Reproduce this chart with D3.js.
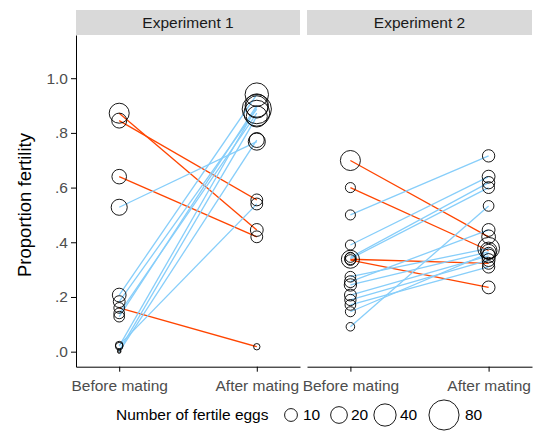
<!DOCTYPE html>
<html>
<head>
<meta charset="utf-8">
<script src="https://cdn.jsdelivr.net/npm/d3@7"></script>
<style type="text/css">
  body{
    background: white;
    margin: 0px;
  }
  svg text{
    font-family: 'Liberation Sans', Arial, Helvetica, sans-serif;
  }
</style>
</head>
<body>

<svg id="chart" width="544" height="431"></svg>

<script>

// stages on the x axis
var stages = ["Before mating", "After mating"];
var panels = ["Experiment 1", "Experiment 2"];

// experiment 1 : proportion fertility and number of fertile eggs, one entry per female
var exp1Before     = [0.872, 0.845, 0.640, 0.160, 0.528, 0.024, 0.207, 0.183, 0.140, 0.128, 0.020, 0.004, 0.000];
var exp1BeforeEggs = [31, 15, 14, 6, 18, 2, 12, 8, 6, 6, 2, 0, 0];
var exp1After      = [0.445, 0.555, 0.420, 0.018, 0.768, 0.540, 0.940, 0.887, 0.872, 0.900, 0.895, 0.860, 0.774];
var exp1AfterEggs  = [10, 8, 8, 1, 21, 8, 45, 75, 57, 45, 40, 35, 15];

// experiment 2
var exp2Before     = [0.699, 0.600, 0.338, 0.335, 0.500, 0.390, 0.345, 0.340, 0.091, 0.256, 0.274, 0.244, 0.207, 0.189, 0.171, 0.146];
var exp2BeforeEggs = [31, 5, 24, 6, 5, 5, 5, 8, 3, 8, 6, 9, 8, 7, 6, 5];
var exp2After      = [0.420, 0.370, 0.323, 0.235, 0.716, 0.640, 0.618, 0.600, 0.533, 0.445, 0.378, 0.365, 0.350, 0.335, 0.310, 0.360];
var exp2AfterEggs  = [12, 20, 8, 10, 9, 10, 9, 8, 6, 10, 38, 15, 12, 10, 9, 8];

var yTicks = [0, 0.2, 0.4, 0.6, 0.8, 1.0];
var legendEggs = [10, 20, 40, 80];

var svg = d3.select("#chart");

var plotTop = 35, plotBottom = 366.7;
var panelX = [[76, 300], [307, 532]];

var y = d3.scaleLinear().domain([-0.055, 1.158]).range([plotBottom, plotTop]);
var size = d3.scaleSqrt().domain([0, 88]).range([1.7, 15.7]);

var upColor = "#87cefa";
var downColor = "#ff4500";

function pairs(b, bn, a, an) {
  return b.map(function(d, i) {
    return { before: d, beforeEggs: bn[i], after: a[i], afterEggs: an[i] };
  });
}

var data = [
  pairs(exp1Before, exp1BeforeEggs, exp1After, exp1AfterEggs),
  pairs(exp2Before, exp2BeforeEggs, exp2After, exp2AfterEggs)
];

panels.forEach(function(name, p) {

  var x = d3.scalePoint().domain(stages).range(panelX[p]).padding(0.314);
  var g = svg.append("g");

  // strip
  g.append("rect")
    .attr("x", panelX[p][0])
    .attr("y", 10)
    .attr("width", panelX[p][1] - panelX[p][0])
    .attr("height", plotTop - 10)
    .attr("fill", "#d9d9d9");

  g.append("text")
    .attr("x", (panelX[p][0] + panelX[p][1]) / 2)
    .attr("y", 22.5)
    .attr("dy", "0.35em")
    .attr("text-anchor", "middle")
    .attr("fill", "#1a1a1a")
    .style("font-size", "15.5px")
    .text(name);

  // x axis
  var xAxis = g.append("g")
    .attr("transform", "translate(0," + plotBottom + ")")
    .call(d3.axisBottom(x).tickSize(5).tickSizeOuter(0).tickPadding(8));
  xAxis.selectAll("text").attr("fill", "#4d4d4d").style("font-size", "15.5px");
  xAxis.select(".domain").attr("stroke", "#000");

  if (p == 0) {
    var yAxis = g.append("g")
      .attr("transform", "translate(" + panelX[p][0] + ",0)")
      .call(d3.axisLeft(y).tickValues(yTicks).tickSize(5).tickSizeOuter(0).tickPadding(3)
        .tickFormat(function(d) { return d == 1 ? "1.0" : d3.format(".1f")(d).replace(/^0/, ""); }));
    yAxis.selectAll("text").attr("fill", "#4d4d4d").style("font-size", "15.5px");
    yAxis.select(".domain").attr("stroke", "#000");
  }

  // lines between before and after
  g.selectAll(".pair")
    .data(data[p])
    .enter()
    .append("line")
    .attr("x1", x(stages[0]))
    .attr("x2", x(stages[1]))
    .attr("y1", function(d) { return y(d.before); })
    .attr("y2", function(d) { return y(d.after); })
    .attr("stroke", function(d) { return d.after < d.before ? downColor : upColor; })
    .attr("stroke-width", 1.3);

  // points
  g.selectAll(".before")
    .data(data[p])
    .enter()
    .append("circle")
    .attr("cx", x(stages[0]))
    .attr("cy", function(d) { return y(d.before); })
    .attr("r", function(d) { return size(d.beforeEggs); })
    .attr("fill", "none")
    .attr("stroke", "#000")
    .attr("stroke-width", 0.9);

  g.selectAll(".after")
    .data(data[p])
    .enter()
    .append("circle")
    .attr("cx", x(stages[1]))
    .attr("cy", function(d) { return y(d.after); })
    .attr("r", function(d) { return size(d.afterEggs); })
    .attr("fill", "none")
    .attr("stroke", "#000")
    .attr("stroke-width", 0.9);

});

// y axis title
svg.append("text")
  .attr("transform", "translate(25,205) rotate(-90)")
  .attr("text-anchor", "middle")
  .attr("dy", "0.35em")
  .style("font-size", "18.5px")
  .text("Proportion fertility");

// legend
var legend = svg.append("g").attr("transform", "translate(0,415)");

legend.append("text")
  .attr("x", 116)
  .attr("dy", "0.35em")
  .style("font-size", "15.5px")
  .text("Number of fertile eggs");

var legendX = [291, 339, 385, 444];
var legendLabelX = [303, 351, 400, 465];

legend.selectAll("circle")
  .data(legendEggs)
  .enter()
  .append("circle")
  .attr("cx", function(d, i) { return legendX[i]; })
  .attr("r", function(d) { return size(d); })
  .attr("fill", "none")
  .attr("stroke", "#000")
  .attr("stroke-width", 0.9);

legend.selectAll(".lab")
  .data(legendEggs)
  .enter()
  .append("text")
  .attr("x", function(d, i) { return legendLabelX[i]; })
  .attr("dy", "0.35em")
  .style("font-size", "15.5px")
  .text(function(d) { return d; });

</script>

</body>
</html>
